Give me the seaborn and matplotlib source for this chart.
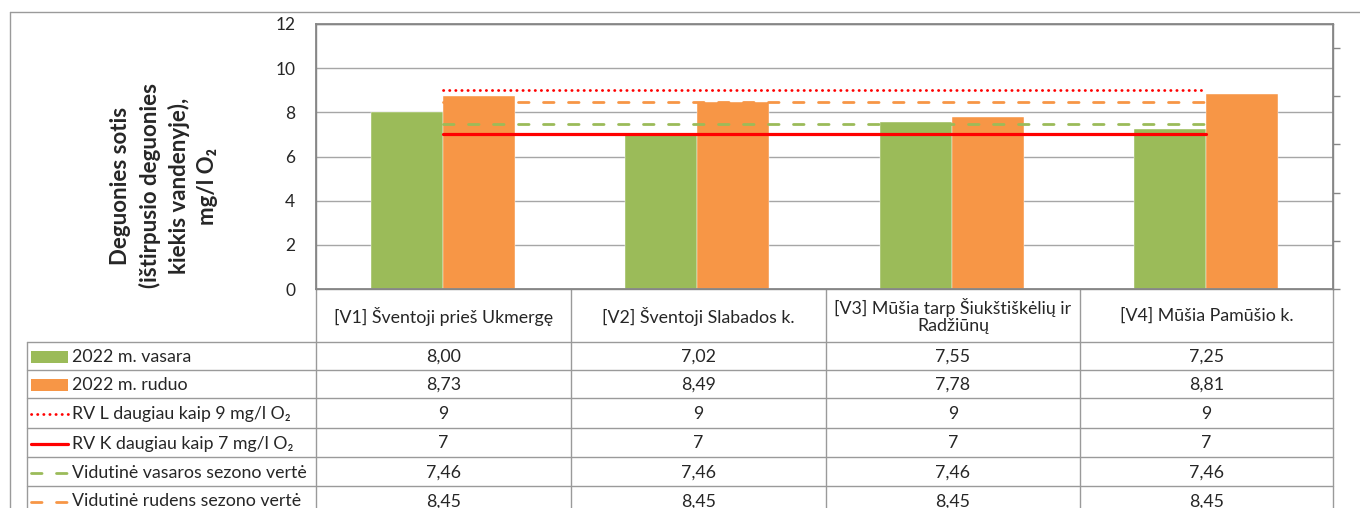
import numpy as np
import pandas as pd
import matplotlib
matplotlib.use('Agg')
import matplotlib.pyplot as plt
from matplotlib.patches import Rectangle
import seaborn as sns

categories = ['[V1] Šventoji prieš Ukmergę', '[V2] Šventoji Slabados k.',
              '[V3] Mūšia tarp Šiukštiškėlių ir\nRadžiūnų', '[V4] Mūšia Pamūšio k.']
summer_2022 = [8.00, 7.02, 7.55, 7.25]
autumn_2022 = [8.73, 8.49, 7.78, 8.81]
rv_l = [9, 9, 9, 9]
rv_k = [7, 7, 7, 7]
avg_summer = [7.46, 7.46, 7.46, 7.46]
avg_autumn = [8.45, 8.45, 8.45, 8.45]
series_names = ['2022 m. vasara', '2022 m. ruduo', 'RV L daugiau kaip 9 mg/l O₂',
                'RV K daugiau kaip 7 mg/l O₂', 'Vidutinė vasaros sezono vertė',
                'Vidutinė rudens sezono vertė']
y_ticks = [0, 2, 4, 6, 8, 10, 12]
y_label = 'Deguonies sotis\n(ištirpusio deguonies\nkiekis vandenyje),\nmg/l O₂'

green = '#9BBB59'
orange = '#F79646'
red = '#FF0000'
grid_col = '#A6A6A6'
line_col = '#9A9A9A'

sns.set_theme(style='white')
plt.rcParams['font.family'] = ['Lato', 'DejaVu Sans']

W, H = 1360, 508
fig = plt.figure(figsize=(W / 100, H / 100), dpi=100)

# pixel-space overlay for the frame and data table
frame = fig.add_axes([0, 0, 1, 1])
frame.set_xlim(0, W)
frame.set_ylim(H, 0)
frame.axis('off')

ax = fig.add_axes([316 / W, 1 - 289 / H, (1333 - 316) / W, (289 - 24) / H])

df = pd.DataFrame({
    'vieta': categories * 2,
    'sezonas': [series_names[0]] * 4 + [series_names[1]] * 4,
    'verte': summer_2022 + autumn_2022,
})
sns.barplot(data=df, x='vieta', y='verte', hue='sezonas', palette=[green, orange],
            width=0.566, saturation=1, errorbar=None, legend=False,
            edgecolor='white', linewidth=0.3, ax=ax)

# line series styles: (color, lw, linestyle, capstyle)
line_styles = [
    (red, 2.0, (0, (0.1, 2.1)), 'round'),
    (red, 2.3, '-', 'butt'),
    (green, 2.0, (0, (3.8, 5.2)), 'round'),
    (orange, 2.0, (0, (3.8, 5.2)), 'round'),
]
xs = np.arange(len(categories))
for vals, (c, lw, ls, cap) in zip([rv_l, rv_k, avg_summer, avg_autumn], line_styles):
    ax.plot(xs, vals, color=c, lw=lw, linestyle=ls, dash_capstyle=cap, zorder=5)

ax.set_xlim(-0.5, len(categories) - 0.5)
ax.set_ylim(0, 12)
ax.set_yticks(y_ticks)
ax.set_xticks([])
ax.set_xlabel('')
ax.set_ylabel('')
ax.yaxis.grid(True, color=grid_col, lw=1)
ax.set_axisbelow(True)
ax.tick_params(axis='y', length=0, pad=15, labelsize=12.5)
for s in ax.spines.values():
    s.set_color('#868686')
    s.set_linewidth(1)

ax2 = ax.twinx()
ax2.set_ylim(0, 1.1)
ax2.set_yticks(np.arange(0, 1.01, 0.2))
ax2.set_yticklabels([])
ax2.tick_params(axis='y', direction='out', length=5, width=1, color='#868686')
for s in ax2.spines.values():
    s.set_color('#868686')

fig.text(164 / W, 1 - 186 / H, y_label, rotation=90, ha='center', va='center',
         multialignment='center', fontsize=16, fontweight='bold', linespacing=1.4)

# outer chart border
frame.plot([10, W], [12, 12], color=line_col, lw=1)
frame.plot([10, 10], [12, H], color=line_col, lw=1)

# data table
col_x = [316, 571, 826, 1080, 1333]
row_y = [342, 370, 398, 428, 457, 486, 515]
for y in row_y[:-1]:
    frame.plot([27, 1333], [y, y], color=line_col, lw=1)
frame.plot([27, 27], [342, H], color=line_col, lw=1)
for x in col_x:
    frame.plot([x, x], [289, H], color=line_col, lw=1)

for i, cat in enumerate(categories):
    cx = (col_x[i] + col_x[i + 1]) / 2
    frame.text(cx, 316, cat, ha='center', va='center', fontsize=12.8,
               multialignment='center', linespacing=1.05)

def fmt(v, dec):
    return f'{v:.{dec}f}'.replace('.', ',')

table_rows = [
    [fmt(v, 2) for v in summer_2022],
    [fmt(v, 2) for v in autumn_2022],
    [fmt(v, 0) for v in rv_l],
    [fmt(v, 0) for v in rv_k],
    [fmt(v, 2) for v in avg_summer],
    [fmt(v, 2) for v in avg_autumn],
]
for r, (name, cells) in enumerate(zip(series_names, table_rows)):
    cy = (row_y[r] + row_y[r + 1]) / 2 + 1
    if r < 2:
        frame.add_patch(Rectangle((31, cy - 6), 37, 12, color=[green, orange][r], lw=0))
    else:
        c, lw, ls, cap = line_styles[r - 2]
        frame.plot([31, 68], [cy, cy], color=c, lw=lw, linestyle=ls, dash_capstyle=cap)
    frame.text(72, cy, name, ha='left', va='center', fontsize=12.8)
    for i, txt in enumerate(cells):
        cx = (col_x[i] + col_x[i + 1]) / 2
        frame.text(cx, cy, txt, ha='center', va='center', fontsize=12.8)

fig.savefig('out.png', dpi=100)
